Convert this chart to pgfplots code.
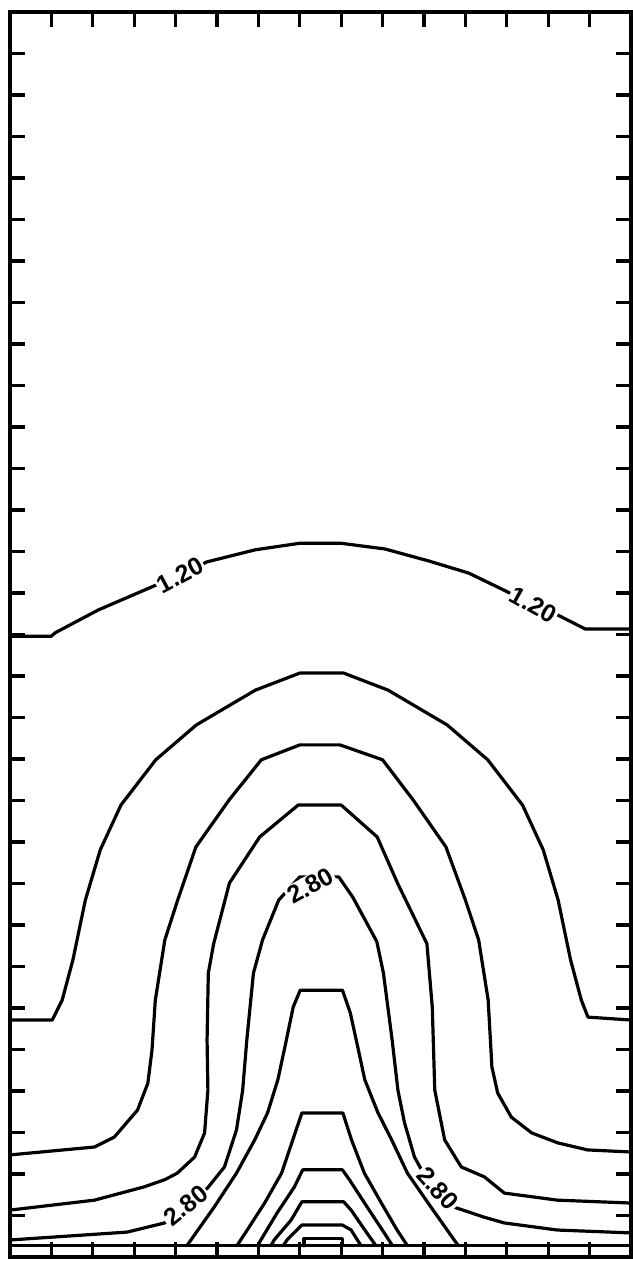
\documentclass[border=0pt]{standalone}
\usepackage{fontspec}
\setmainfont{Liberation Sans}
\usepackage{pgfplots}
\pgfplotsset{compat=1.18}

\tikzset{
  lbl/.style={fill=white, inner sep=0.8bp,
    font=\fontsize{12.5}{12.5}\selectfont\bfseries},
  ct/.style={black, solid, line width=1.6bp, line join=round, line cap=round, mark=none},
}

\begin{document}
\begin{tikzpicture}
\begin{axis}[
  scale only axis, width=310.5bp, height=622.5bp,
  xmin=0, xmax=15, ymin=0, ymax=30,
  xtick={1,...,14}, ytick={1,...,29},
  xticklabels={}, yticklabels={},
  tick align=inside,
  major tick length=7.5bp,
  every tick/.style={black, line width=1.6bp},
  axis line style={line width=2bp},
]
% level 1.20
\addplot[ct] coordinates {(0,14.96) (1.0,14.96) (1.09,15.04) (2.13,15.59) (3.48,16.17) (4.11,16.43) (4.76,16.75) (5.92,17.04) (7.01,17.20) (7.98,17.20) (9.06,17.06) (10.12,16.77) (11.08,16.48) (11.97,16.05) (12.64,15.71) (13.23,15.47) (13.90,15.13) (15,15.13)};
% level 1.60
\addplot[ct] coordinates {(0,5.71) (1.02,5.71) (1.26,6.19) (1.52,7.16) (1.82,8.60) (2.18,9.81) (2.68,10.89) (3.52,11.98) (4.50,12.82) (5.52,13.42) (5.93,13.66) (7.0,14.07) (8.06,14.07) (9.13,13.66) (9.54,13.42) (10.56,12.82) (11.54,11.98) (12.38,10.89) (12.88,9.81) (13.24,8.60) (13.54,7.16) (13.80,6.19) (13.96,5.78) (15,5.71)};
% level 2.00
\addplot[ct] coordinates {(0,2.46) (2.04,2.65) (2.52,2.89) (3.08,3.54) (3.33,4.19) (3.43,4.99) (3.51,6.19) (3.74,7.64) (4.05,8.60) (4.49,9.88) (5.29,11.01) (6.07,11.98) (7.0,12.34) (7.97,12.34) (9.0,11.98) (9.74,11.01) (10.53,9.88) (11.0,8.60) (11.32,7.64) (11.55,6.19) (11.64,4.58) (11.78,3.95) (12.11,3.37) (12.60,2.99) (13.23,2.75) (13.95,2.58) (15,2.53)};
% level 2.40
\addplot[ct] coordinates {(0,1.13) (2.04,1.37) (3.24,1.69) (3.73,1.86) (4.04,2.02) (4.46,2.41) (4.70,2.99) (4.78,4.02) (4.76,5.23) (4.79,6.84) (4.92,7.55) (5.30,9.01) (6.03,10.12) (6.96,10.89) (8.0,10.89) (8.87,10.12) (9.36,9.01) (10.07,7.55) (10.20,6.02) (10.26,4.02) (10.50,2.82) (10.90,2.17) (11.46,1.93) (11.94,1.54) (13.22,1.37) (15,1.30)};
% level 2.80
\addplot[ct] coordinates {(0,0.41) (2.83,0.60) (3.73,0.82) (4.24,1.24) (4.77,1.66) (5.18,2.17) (5.47,3.06) (5.62,4.02) (5.72,5.23) (5.88,6.84) (6.10,7.64) (6.49,8.60) (7.0,9.16) (7.94,9.16) (8.28,8.67) (8.86,7.60) (9.02,6.84) (9.23,5.23) (9.37,4.02) (9.53,3.23) (9.77,2.41) (9.94,2.10) (10.33,1.65) (10.73,1.20) (11.45,0.96) (11.94,0.82) (13.22,0.65) (15,0.58)};
% level 3.20
\addplot[ct] coordinates {(4.27,0.27) (4.37,0.41) (4.93,1.20) (5.47,2.02) (5.91,2.82) (6.22,3.47) (6.47,4.27) (6.64,5.06) (6.84,6.02) (7.01,6.43) (8.03,6.43) (8.22,5.88) (8.40,5.06) (8.57,4.27) (8.89,3.47) (9.22,2.82) (9.60,2.02) (10.17,1.20) (10.73,0.41) (10.83,0.27)};
% level 3.60
\addplot[ct] coordinates {(5.48,0.27) (5.73,0.65) (6.15,1.30) (6.56,2.02) (6.83,2.82) (7.05,3.47) (8.04,3.47) (8.25,2.82) (8.56,2.02) (8.97,1.30) (9.35,0.65) (9.60,0.27)};
% level 4.00
\addplot[ct] coordinates {(5.98,0.27) (6.06,0.41) (6.45,1.06) (6.87,1.69) (7.07,2.10) (8.03,2.10) (8.20,1.86) (8.63,1.20) (9.04,0.58) (9.24,0.27)};
% level 4.40
\addplot[ct] coordinates {(6.30,0.27) (6.38,0.41) (6.79,0.89) (7.05,1.33) (8.06,1.33) (8.24,1.13) (8.62,0.58) (8.84,0.27)};
% level 4.80
\addplot[ct] coordinates {(6.60,0.27) (6.69,0.41) (7.05,0.77) (8.03,0.77) (8.24,0.65) (8.48,0.27)};
% level 5.20
\addplot[ct] coordinates {(7.10,0.27) (7.10,0.45) (8.03,0.45) (8.03,0.27)};
% lower boundary line
\addplot[ct] coordinates {(0,0.27) (15,0.27)};

\node[lbl, rotate=28] at (axis cs:4.11,16.43) {1.20};
\node[lbl, rotate=-29] at (axis cs:12.64,15.71) {1.20};
\node[lbl, rotate=29] at (axis cs:7.25,8.95) {2.80};
\node[lbl, rotate=39] at (axis cs:4.24,1.24) {2.80};
\node[lbl, rotate=-48] at (axis cs:10.33,1.65) {2.80};
\end{axis}
\pgfresetboundingbox
\path ([shift={(-5bp,-2bp)}]current axis.south west) rectangle ([shift={(1bp,6bp)}]current axis.north east);
\end{tikzpicture}
\end{document}
